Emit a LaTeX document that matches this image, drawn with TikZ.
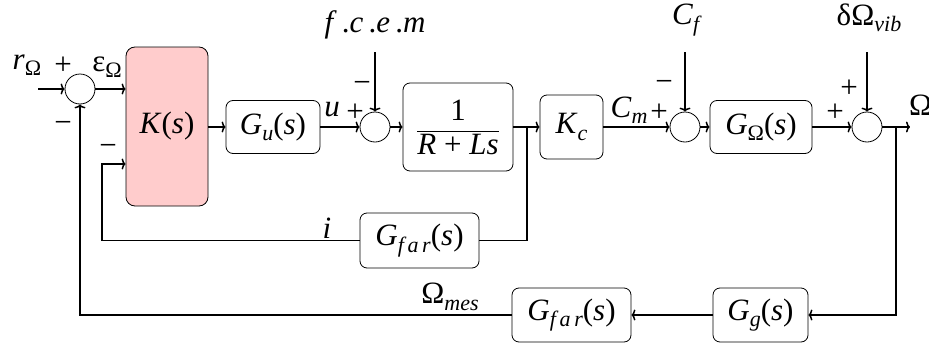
\documentclass[tikz,border=0pt]{standalone}
\usepackage{fontspec}
\usetikzlibrary{arrows.meta}
\setmainfont{Liberation Serif}
\newfontfamily\tms{Liberation Serif}
\newcommand{\mi}[1]{\textit{#1}}
\newcommand{\sbx}[1]{\raisebox{-0.45ex}{\fontsize{22}{24}\selectfont #1}}
\begin{document}
\begin{tikzpicture}[x=1pt,y=-1pt,
  every node/.style={font=\tms\fontsize{31}{34}\selectfont},
  blk/.style={draw, rounded corners=7pt, line width=0.8pt, inner sep=3pt},
  sumc/.style={draw, circle, line width=0.8pt, minimum size=30pt, inner sep=0pt},
  lnk/.style={line width=1.5pt, -{To[length=4pt,width=11pt]}},
  ln/.style={line width=1.5pt},
  lbl/.style={inner sep=0pt}]
\useasboundingbox (0,0) rectangle (929,343);
% blocks
\node[sumc] (s1) at (80,89) {};
\node[blk, fill=red!20, minimum width=82pt, minimum height=159pt, rounded corners=9pt] (K) at (167,126.5) {\mi{K}(\mi{s})};
\node[blk, minimum width=94pt, minimum height=53pt] (Gu) at (273,127) {\mi{G}\sbx{\mi{u}}(\mi{s})};
\node[sumc] (s2) at (375,127) {};
\node[blk, minimum width=110pt, minimum height=88pt] (R) at (458,127) {$\displaystyle\frac{\mbox{1}}{\mbox{\mi{R} + \mi{Ls}}}$};
\node[blk, minimum width=63pt, minimum height=64pt] (Kc) at (571.5,127) {\mi{K}\sbx{\mi{c}}};
\node[sumc] (s3) at (685,127) {};
\node[blk, minimum width=102pt, minimum height=53pt] (GO) at (761,127) {\mi{G}\sbx{Ω}(\mi{s})};
\node[sumc] (s4) at (867,127) {};
\node[blk, minimum width=119pt, minimum height=55pt] (Gf1) at (419.5,240.5) {\mi{G}\sbx{\mi{f\,a\,r}}(\mi{s})};
\node[blk, minimum width=95pt, minimum height=54pt] (Gg) at (760.5,315) {\mi{G}\sbx{\mi{g}}(\mi{s})};
\node[blk, minimum width=119pt, minimum height=54pt] (Gf2) at (571.5,315) {\mi{G}\sbx{\mi{f\,a\,r}}(\mi{s})};
% labels
\node[lbl] (lr) at (27,65) {\mi{r}\sbx{Ω}};
\node[lbl] (p1) at (63,66) {+};
\node[lbl] (le) at (107,67) {ε\sbx{Ω}};
\node[lbl] (m1) at (63,127) {−};
\node[lbl] (m2) at (108,150) {−};
\node[lbl] (lu) at (332,110) {\mi{u}};
\node[lbl] (p2) at (355,113) {+};
\node[lbl] (m3) at (362,87) {−};
\node[lbl] (lf) at (375,25) {\mi{f}\,.\mi{c}\,.\mi{e}\,.\mi{m}};
\node[lbl] (lcm) at (629,110) {\mi{C}\sbx{\mi{m}}};
\node[lbl] (p3) at (659,113) {+};
\node[lbl] (m4) at (664,86) {−};
\node[lbl] (lcf) at (687,20) {\mi{C}\sbx{\mi{f}}};
\node[lbl] (p4) at (835,113) {+};
\node[lbl] (p5) at (849,89) {+};
\node[lbl] (ld) at (869,18) {δΩ\sbx{\mi{vib}}};
\node[lbl, anchor=west] (lo) at (909,105) {Ω};
\node[lbl] (li) at (327,228) {\mi{i}};
\node[lbl] (lm) at (450,297) {Ω\sbx{\mi{mes}}};
% coordinates
\coordinate (rin) at (38,89);
\coordinate (ftop) at (375,52);
\coordinate (cftop) at (685,52);
\coordinate (dtop) at (867,52);
\coordinate (out) at (910,127);
\coordinate (j1) at (527,127);
\coordinate (j2) at (896,127);
\coordinate (fb2) at (102,164);
% connectors
\draw[lnk] (rin) -- (s1);
\draw[lnk] (s1) -- (s1 -| K.west);
\draw[lnk] (K.east |- Gu) -- (Gu);
\draw[lnk] (Gu) -- (s2);
\draw[lnk] (ftop) -- (s2);
\draw[lnk] (s2) -- (R);
\draw[lnk] (R) -- (Kc);
\draw[ln] (Gf1.east) -| (j1);
\draw[lnk] (Gf1.west) -| (fb2) -- (fb2 -| K.west);
\draw[lnk] (Kc) -- (s3);
\draw[lnk] (cftop) -- (s3);
\draw[lnk] (s3) -- (GO);
\draw[lnk] (GO) -- (s4);
\draw[lnk] (dtop) -- (s4);
\draw[lnk] (s4) -- (out);
\draw[lnk] (j2) |- (Gg.east);
\draw[lnk] (Gg) -- (Gf2);
\draw[lnk] (Gf2.west) -| (s1.south);
\end{tikzpicture}
\end{document}
